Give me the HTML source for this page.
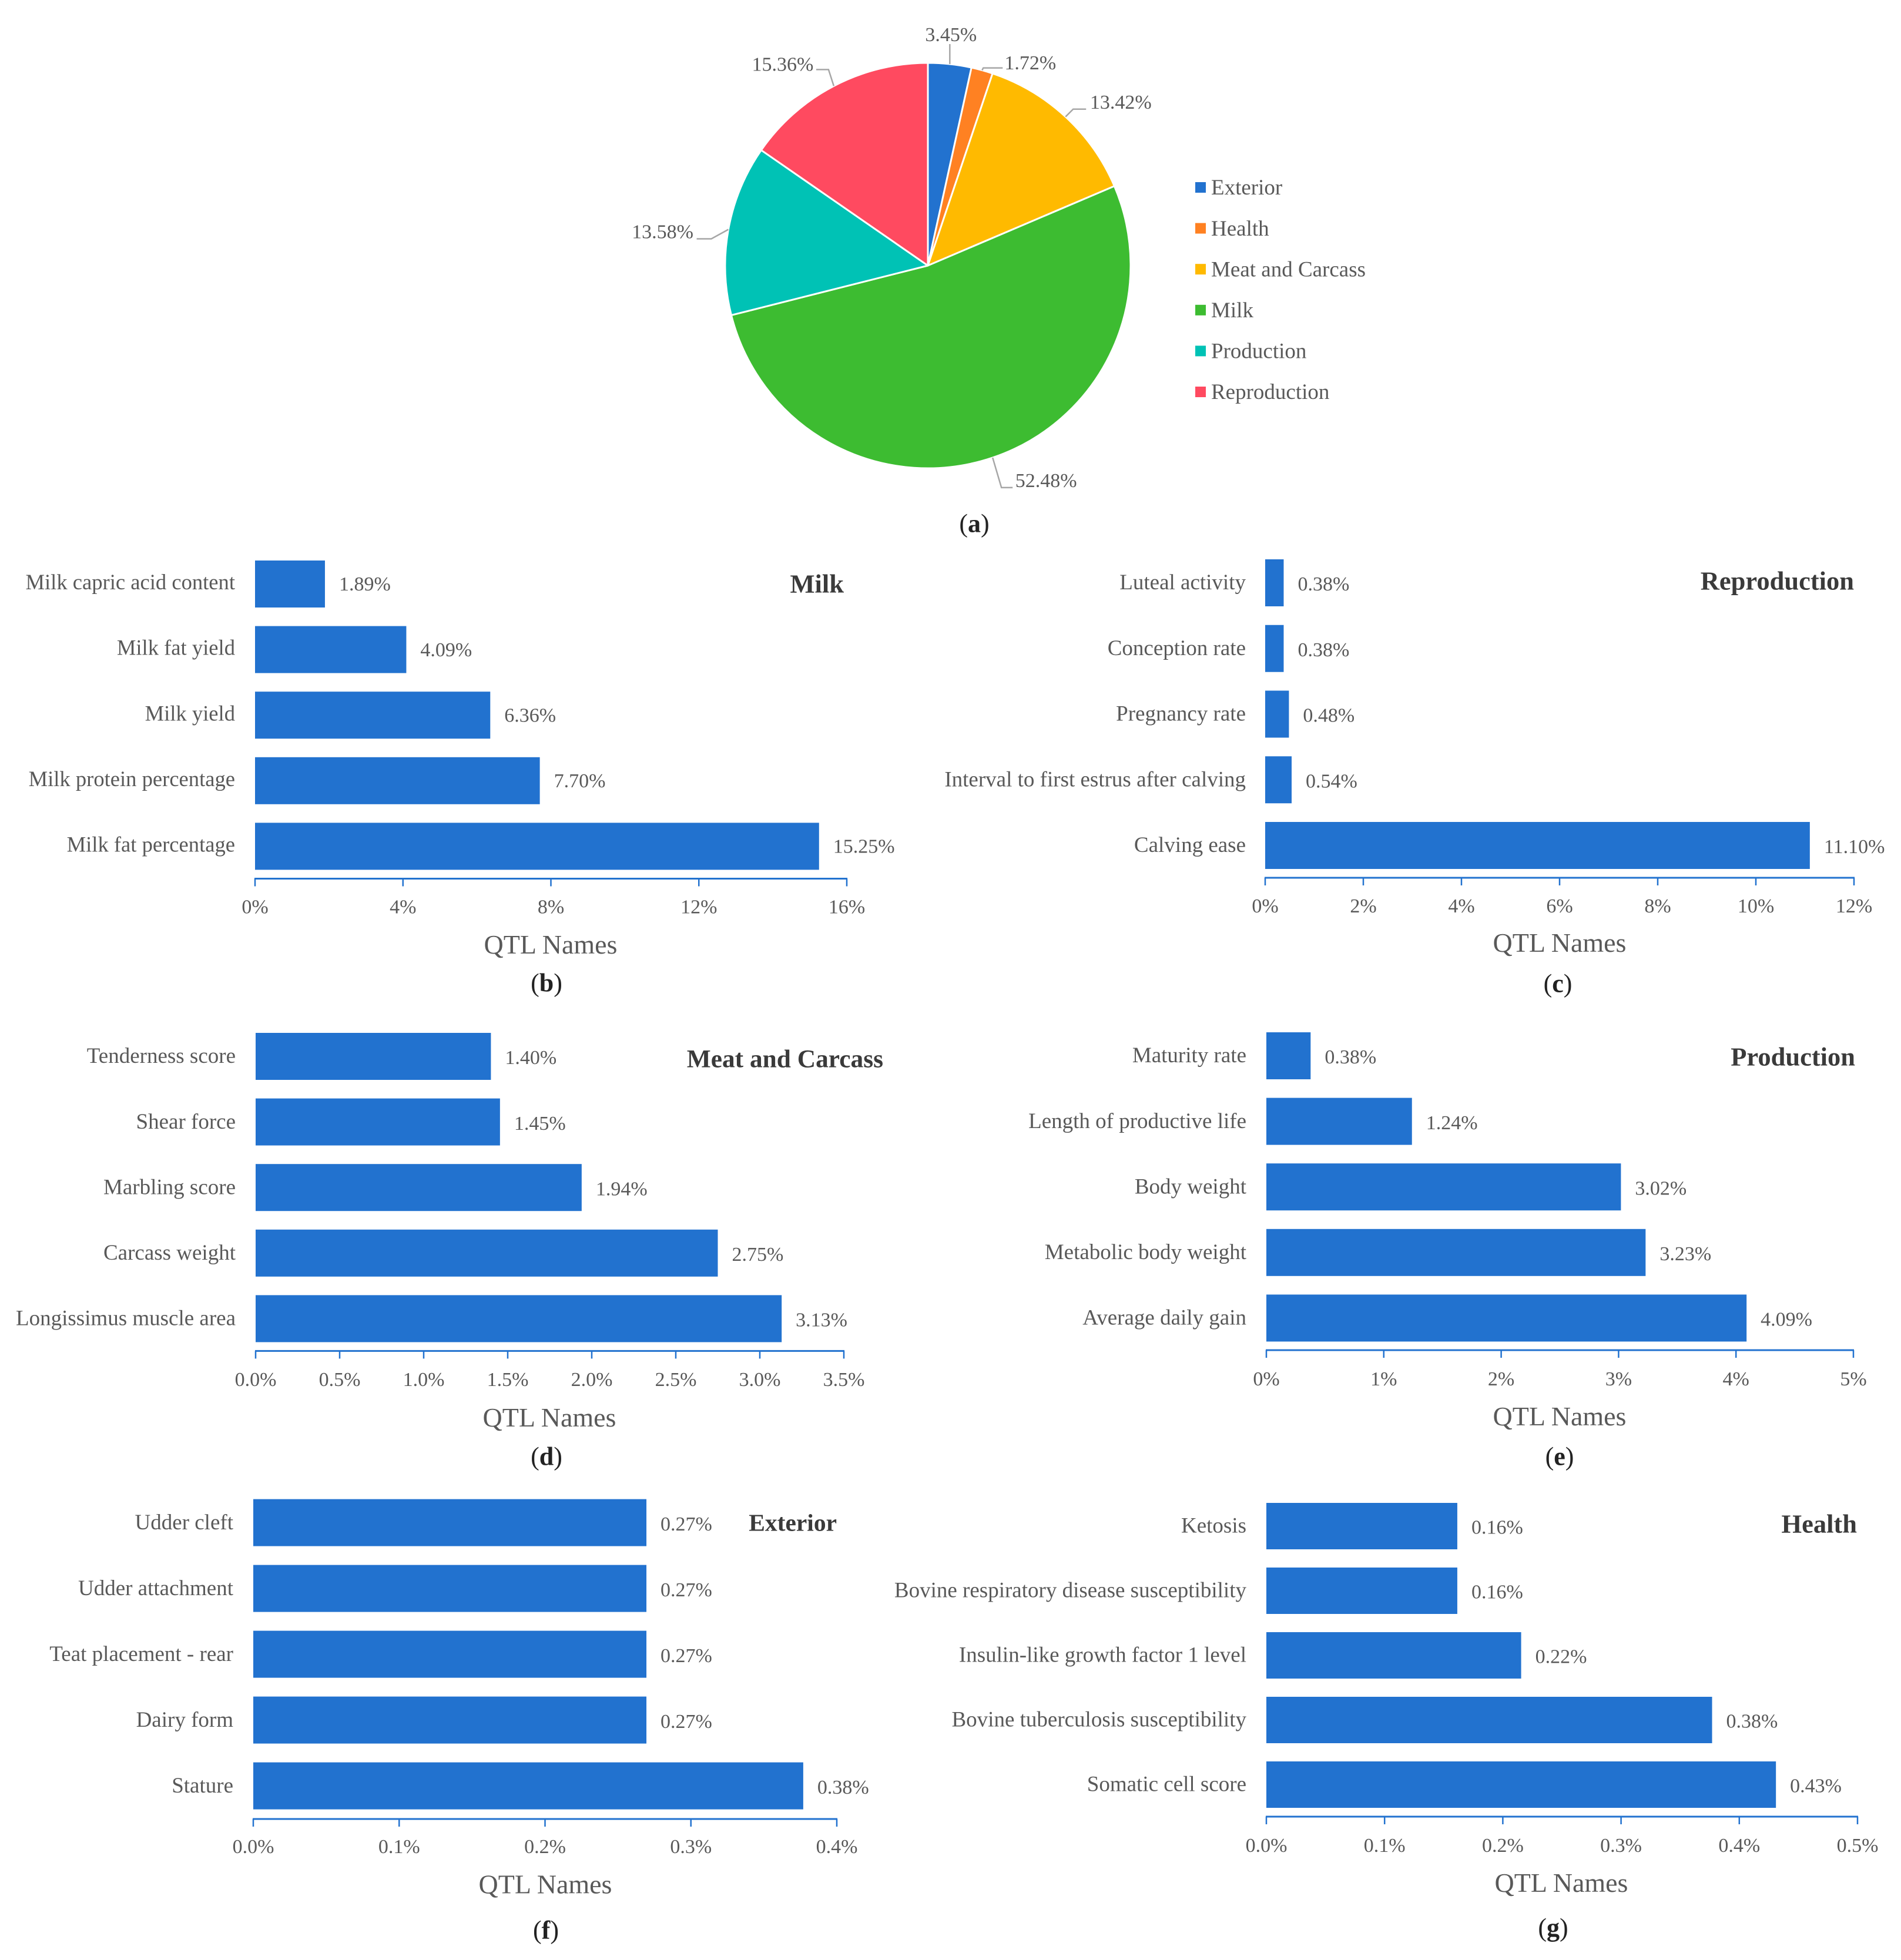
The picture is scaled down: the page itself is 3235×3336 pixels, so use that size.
<!DOCTYPE html>
<html lang="en">
<head>
<meta charset="utf-8">
<title>QTL distribution charts</title>
<style>
html,body{margin:0;padding:0;background:#fff;}
svg{display:block;}
text{font-family:"Liberation Serif","DejaVu Serif",serif;}
</style>
</head>
<body>
<svg id="figure" xmlns="http://www.w3.org/2000/svg" width="3235" height="3336" viewBox="0 0 3235 3336">
<rect x="0" y="0" width="3235" height="3336" fill="#ffffff"/>
</svg>
<script>
// ---- Pie data ----
const pieCategories = ['Exterior', 'Health', 'Meat and Carcass', 'Milk', 'Production', 'Reproduction'];
const pieValues = [3.45, 1.72, 13.42, 52.48, 13.58, 15.36];

// ---- Bar chart data (labels print two decimals) ----
const milkCategories = ['Milk capric acid content', 'Milk fat yield', 'Milk yield', 'Milk protein percentage', 'Milk fat percentage'];
const milkValues = [1.89, 4.09, 6.36, 7.70, 15.25];
const milkTicks = [0, 4, 8, 12, 16];

const reproductionCategories = ['Luteal activity', 'Conception rate', 'Pregnancy rate', 'Interval to first estrus after calving', 'Calving ease'];
const reproductionValues = [0.377, 0.377, 0.484, 0.539, 11.10];
const reproductionTicks = [0, 2, 4, 6, 8, 10, 12];

const meatCategories = ['Tenderness score', 'Shear force', 'Marbling score', 'Carcass weight', 'Longissimus muscle area'];
const meatValues = [1.40, 1.454, 1.94, 2.75, 3.13];
const meatTicks = [0, 0.5, 1, 1.5, 2, 2.5, 3, 3.5];

const productionCategories = ['Maturity rate', 'Length of productive life', 'Body weight', 'Metabolic body weight', 'Average daily gain'];
const productionValues = [0.377, 1.24, 3.02, 3.23, 4.09];
const productionTicks = [0, 1, 2, 3, 4, 5];

const exteriorCategories = ['Udder cleft', 'Udder attachment', 'Teat placement - rear', 'Dairy form', 'Stature'];
const exteriorValues = [0.2695, 0.2695, 0.2695, 0.2695, 0.377];
const exteriorTicks = [0, 0.1, 0.2, 0.3, 0.4];

const healthCategories = ['Ketosis', 'Bovine respiratory disease susceptibility', 'Insulin-like growth factor 1 level', 'Bovine tuberculosis susceptibility', 'Somatic cell score'];
const healthValues = [0.1615, 0.1615, 0.2155, 0.377, 0.431];
const healthTicks = [0, 0.1, 0.2, 0.3, 0.4, 0.5];

// ---- Layout ----
const BLUE = '#2272cf';
const GREY = '#595959';
const DARK = '#3a3a3a';
const pieColors = ['#2272cf', '#ff8122', '#ffba00', '#3dbc31', '#00c2b5', '#ff4a60'];
const pieGeom = {cx: 1579, cy: 452, r: 345};
const pieLeaders = [
  {elbow: [0, -17], end: [0, -34], label: [2, -50]},
  {elbow: [2, -4], end: [35, -4], label: [82, -13]},
  {elbow: [13, -13], end: [35, -13], label: [94, -25]},
  {elbow: [15, 51], end: [34, 51], label: [91, 39]},
  {elbow: [-29, 16], end: [-54, 16], label: [-112, 4]},
  {elbow: [-9, -28], end: [-30, -28], label: [-87, -37]}
];

const panels = [
  {key: 'milk', cats: milkCategories, vals: milkValues, ticks: milkTicks, dec: 0, x0: 434, x1: 1441, axisY: 1495.5, top: 954, pitch: 111.6, barH: 80, labelRight: 400, labelSize: 36.6, labelDy: -2, tickY: 1543.5, axisX: 937, axisTitleY: 1608, cap: 'b', capX: 930, capY: 1673, title: 'Milk', titleSize: 44.5, titleRight: 1436, titleY: 994},
  {key: 'reproduction', cats: reproductionCategories, vals: reproductionValues, ticks: reproductionTicks, dec: 0, x0: 2153, x1: 3155, axisY: 1494, top: 952, pitch: 111.75, barH: 80, labelRight: 2120, labelSize: 37, labelDy: 0, tickY: 1542, axisX: 2654, axisTitleY: 1605, cap: 'c', capX: 2651, capY: 1674, title: 'Reproduction', titleSize: 44.5, titleRight: 3155, titleY: 989},
  {key: 'meat', cats: meatCategories, vals: meatValues, ticks: meatTicks, dec: 1, x0: 435, x1: 1436, axisY: 2299.4, top: 1758, pitch: 111.6, barH: 80, labelRight: 401, labelSize: 37, labelDy: 0, tickY: 2348, axisX: 935, axisTitleY: 2413, cap: 'd', capX: 930, capY: 2479, title: 'Meat and Carcass', titleSize: 43.4, titleRight: 1503, titleY: 1802},
  {key: 'production', cats: productionCategories, vals: productionValues, ticks: productionTicks, dec: 0, x0: 2155, x1: 3154, axisY: 2298, top: 1757, pitch: 111.6, barH: 80, labelRight: 2121, labelSize: 37, labelDy: 0, tickY: 2347, axisX: 2654, axisTitleY: 2411, cap: 'e', capX: 2654, capY: 2479, title: 'Production', titleSize: 44.5, titleRight: 3157, titleY: 1799},
  {key: 'exterior', cats: exteriorCategories, vals: exteriorValues, ticks: exteriorTicks, dec: 1, x0: 431, x1: 1424, axisY: 3096, top: 2551.6, pitch: 112, barH: 80, labelRight: 397, labelSize: 37, labelDy: 0, tickY: 3143, axisX: 928, axisTitleY: 3207.5, cap: 'f', capX: 929, capY: 3285, title: 'Exterior', titleSize: 41.5, titleRight: 1424, titleY: 2592},
  {key: 'health', cats: healthCategories, vals: healthValues, ticks: healthTicks, dec: 1, x0: 2155, x1: 3161, axisY: 3092, top: 2558, pitch: 110, barH: 79, labelRight: 2121, labelSize: 37, labelDy: 0, tickY: 3141, axisX: 2657, axisTitleY: 3205, cap: 'g', capX: 2643, capY: 3281, title: 'Health', titleSize: 44.5, titleRight: 3160, titleY: 2594}
];

const SVGNS = 'http://www.w3.org/2000/svg';
const root = document.getElementById('figure');

function svgEl(tag, attrs, parent, content) {
  const node = document.createElementNS(SVGNS, tag);
  for (const k in attrs) node.setAttribute(k, attrs[k]);
  if (content !== undefined) node.textContent = content;
  parent.appendChild(node);
  return node;
}
function textAttrs(x, cy, size, anchor, fill, weight) {
  return {x: x, y: cy + size * 0.33, 'font-size': size, 'text-anchor': anchor, fill: fill, 'font-weight': weight || 'normal'};
}
function drawCaption(parent, letter, x, cy) {
  const t = svgEl('text', textAttrs(x, cy, 44, 'middle', '#222222'), parent);
  
  
  svgEl('tspan', {}, t, '(');
  svgEl('tspan', {'font-weight': 'bold'}, t, letter);
  svgEl('tspan', {}, t, ')');
}

// ---- Pie ----
function drawPie() {
  const g = svgEl('g', {}, root);
  
  
  const total = pieValues.reduce((a, b) => a + b, 0);
  const angle = v => v / total * 2 * Math.PI;
  const point = (a, r) => [pieGeom.cx + r * Math.sin(a), pieGeom.cy - r * Math.cos(a)];
  let acc = 0;
  pieValues.forEach((v, i) => {
    const a0 = angle(acc), a1 = angle(acc + v), mid = (a0 + a1) / 2;
    acc += v;
    const p0 = point(a0, pieGeom.r), p1 = point(a1, pieGeom.r);
    const large = a1 - a0 > Math.PI ? 1 : 0;
    const d = 'M' + pieGeom.cx + ' ' + pieGeom.cy + 'L' + p0[0] + ' ' + p0[1] + 'A' + pieGeom.r + ' ' + pieGeom.r + ' 0 ' + large + ' 1 ' + p1[0] + ' ' + p1[1] + 'Z';
    const slice = svgEl('path', {d: d, fill: pieColors[i], stroke: '#ffffff', 'stroke-width': 3, 'stroke-linejoin': 'round'}, g);
    
    

    const rim = point(mid, pieGeom.r);
    const lay = pieLeaders[i];
    const pts = [rim, [rim[0] + lay.elbow[0], rim[1] + lay.elbow[1]], [rim[0] + lay.end[0], rim[1] + lay.end[1]]];
    const leader = svgEl('polyline', {points: pts.map(p => p.join(',')).join(' '), fill: 'none', stroke: '#a6a6a6', 'stroke-width': 2.5}, g);
    
    

    const lab = svgEl('text', textAttrs(rim[0] + lay.label[0], rim[1] + lay.label[1], 34, 'middle', GREY), g, v.toFixed(2) + '%');
    
    
  });

  const legend = svgEl('g', {}, root);
  
  
  pieCategories.forEach((c, i) => {
    const y = 319 + i * 69.6;
    const sw = svgEl('rect', {x: 2034, y: y - 9, width: 18, height: 18, fill: pieColors[i]}, legend);
    
    
    const t = svgEl('text', textAttrs(2061, y, 37, 'start', GREY), legend, c);
    
    
  });
  drawCaption(root, 'a', 1658, 891);
}

// ---- Bars ----
function drawBarPanel(p) {
  const g = svgEl('g', {}, root);
  
  
  const maxTick = p.ticks[p.ticks.length - 1];
  const xScale = v => p.x0 + (v / maxTick) * (p.x1 - p.x0);
  const yScale = i => p.top + i * p.pitch;

  p.vals.forEach((v, i) => {
    const y = yScale(i);
    const bar = svgEl('rect', {x: xScale(0), y: y, width: xScale(v) - xScale(0), height: p.barH, fill: BLUE}, g);
    
    
    const cat = svgEl('text', textAttrs(p.labelRight, y + p.barH / 2 - 1 + p.labelDy, p.labelSize, 'end', GREY), g, p.cats[i]);
    
    
    const val = svgEl('text', textAttrs(xScale(v) + 24, y + p.barH / 2 + 2 + p.labelDy, 34, 'start', GREY), g, v.toFixed(2) + '%');
    
    
  });

  const axis = svgEl('line', {x1: p.x0 - 1, x2: p.x1 + 1, y1: p.axisY, y2: p.axisY, stroke: BLUE, 'stroke-width': 3}, g);
  
  
  p.ticks.forEach((t, i) => {
    const x = xScale(t);
    const tick = svgEl('line', {x1: x, x2: x, y1: p.axisY, y2: p.axisY + 13, stroke: BLUE, 'stroke-width': 2.5}, g);
    
    
    const lab = svgEl('text', textAttrs(x, p.tickY, 34, 'middle', GREY), g, t.toFixed(p.dec) + '%');
    
    
  });

  const axisTitle = svgEl('text', textAttrs(p.axisX, p.axisTitleY, 46, 'middle', GREY), g, 'QTL Names');
  
  
  const title = svgEl('text', textAttrs(p.titleRight, p.titleY, p.titleSize, 'end', DARK, 'bold'), g, p.title);
  
  
  drawCaption(g, p.cap, p.capX, p.capY);
}

drawPie();
panels.forEach(drawBarPanel);
</script>
</body>
</html>
